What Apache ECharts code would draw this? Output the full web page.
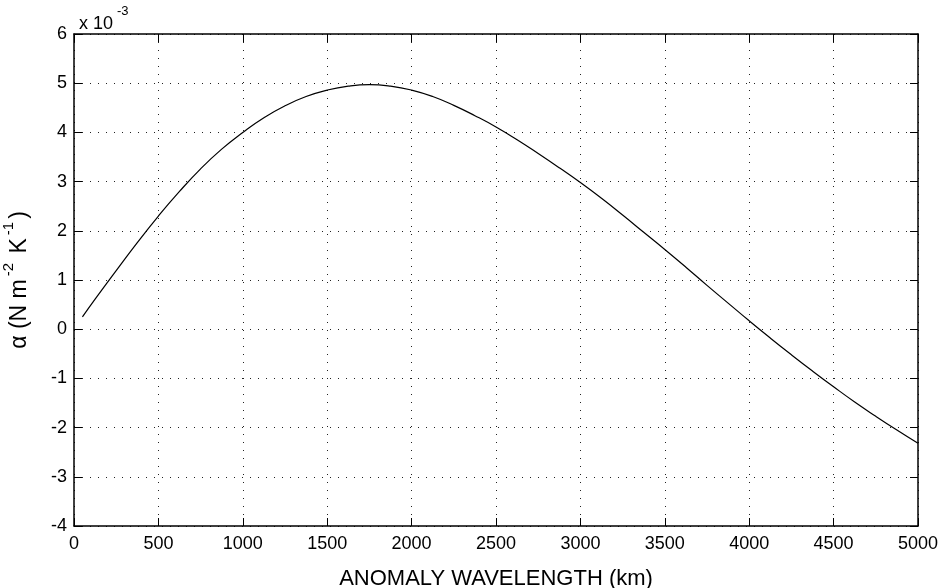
<!DOCTYPE html>
<html>
<head>
<meta charset="utf-8">
<script src="https://cdn.jsdelivr.net/npm/echarts@6/dist/echarts.min.js"></script>
<style>html,body{margin:0;padding:0;background:#fff;}#c{width:944px;height:588px;}</style>
</head>
<body>
<div id="c"></div>
<script>
// Data (alpha values in units of 1e-3 N m^-2 K^-1)
var wavelengthKm = [50, 125, 250, 375, 500, 625, 750, 875, 1000, 1125, 1250, 1375, 1500, 1625, 1750, 1875, 2000, 2125, 2250, 2375, 2500, 2625, 2750, 2875, 3000, 3125, 3250, 3375, 3500, 3625, 3750, 3875, 4000, 4125, 4250, 4375, 4500, 4625, 4750, 4875, 5000];
var alphaValues  = [0.25, 0.61, 1.19, 1.76, 2.30, 2.80, 3.26, 3.66, 4.00, 4.30, 4.54, 4.73, 4.86, 4.94, 4.97, 4.94, 4.86, 4.73, 4.55, 4.34, 4.11, 3.85, 3.57, 3.28, 2.98, 2.66, 2.32, 1.97, 1.62, 1.26, 0.89, 0.53, 0.17, -0.18, -0.52, -0.85, -1.17, -1.48, -1.77, -2.05, -2.32];
var xTicks = [0, 500, 1000, 1500, 2000, 2500, 3000, 3500, 4000, 4500, 5000];
var yTicks = [-4, -3, -2, -1, 0, 1, 2, 3, 4, 5, 6];

var FONT = '"Liberation Sans", Arial, sans-serif';
var pts = wavelengthKm.map(function (x, i) { return [x, alphaValues[i]]; });

var chart = echarts.init(document.getElementById('c'), null, {renderer: 'canvas'});

function axisCommon(showLabels) {
  return {
    axisLine: {show: true, onZero: false, lineStyle: {color: '#000', width: 1.5}},
    axisTick: {show: true, inside: true, length: 8, lineStyle: {color: '#000', width: 1}},
    splitLine: {show: false},
    axisLabel: {show: showLabels, color: '#000', fontFamily: FONT, fontSize: 18,
      formatter: function (v) { return String(v); }}
  };
}

var xMain = Object.assign(axisCommon(true), {
  type: 'value', position: 'bottom', min: xTicks[0], max: xTicks[xTicks.length - 1], interval: 500,
  name: 'ANOMALY WAVELENGTH (km)', nameLocation: 'middle', nameGap: 42,
  nameTextStyle: {color: '#000', fontFamily: FONT, fontSize: 22},
  splitLine: {show: true, lineStyle: {color: '#222', width: 1, type: [1, 7]}}
});
xMain.axisLabel.margin = 9;
var xTop = Object.assign(axisCommon(false), {
  type: 'value', position: 'top', min: xTicks[0], max: xTicks[xTicks.length - 1], interval: 500
});
var yMain = Object.assign(axisCommon(true), {
  type: 'value', position: 'left', min: yTicks[0], max: yTicks[yTicks.length - 1], interval: 1,
  name: '{m|α (N m}{s|-2}{m| K}{s|-1}{m|)}', nameLocation: 'middle', nameGap: 43, nameRotate: 90,
  nameTextStyle: {
    color: '#000', fontFamily: FONT, fontSize: 23,
    rich: {
      m: {fontFamily: FONT, fontSize: 23, color: '#000', lineHeight: 30, verticalAlign: 'bottom'},
      s: {fontFamily: FONT, fontSize: 15, color: '#000', lineHeight: 30, verticalAlign: 'top', padding: [0, 3, 0, 3]}
    }
  },
  splitLine: {show: true, lineStyle: {color: '#222', width: 1, type: [1, 7]}}
});
yMain.axisLabel.margin = 7;
var yRight = Object.assign(axisCommon(false), {
  type: 'value', position: 'right', min: yTicks[0], max: yTicks[yTicks.length - 1], interval: 1
});

chart.setOption({
  backgroundColor: '#fff',
  animation: false,
  title: {
    text: '{m|x 10}{s|-3}',
    left: 74, top: 0,
    textStyle: {
      fontWeight: 'normal',
      rich: {
        m: {fontFamily: FONT, fontSize: 18, fontWeight: 'normal', color: '#000', lineHeight: 28, verticalAlign: 'bottom'},
        s: {fontFamily: FONT, fontSize: 13, fontWeight: 'normal', color: '#000', lineHeight: 28, verticalAlign: 'top', padding: [0, 0, 0, 4]}
      }
    }
  },
  grid: {left: 74, right: 26, top: 34, bottom: 62, containLabel: false, outerBoundsMode: 'none'},
  xAxis: [xMain, xTop],
  yAxis: [yMain, yRight],
  series: [{
    type: 'line', data: pts, smooth: 0.5, showSymbol: false, symbol: 'none',
    lineStyle: {color: '#000', width: 1.2}, xAxisIndex: 0, yAxisIndex: 0
  }]
});
</script>
</body>
</html>
